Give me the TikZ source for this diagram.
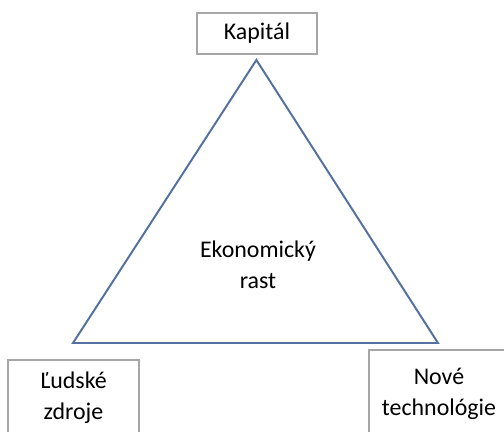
\documentclass[tikz,border=0pt]{standalone}
\usepackage{fontspec}
\setmainfont{Carlito}
\usepackage{tikz}
\usetikzlibrary{calc}
\definecolor{triblue}{HTML}{5470A0}
\definecolor{boxgray}{HTML}{A6A6A6}

\begin{document}
\begin{tikzpicture}[
		faktor/.style={draw=boxgray, line width=0.9pt, fill=white, align=center, inner sep=0pt, font=\fontsize{17}{22}\selectfont},
		hrana/.style={draw=triblue, line width=1.4pt, line join=miter}
	]
		%%%%% START %%%%%
		
		\useasboundingbox (0, 0) rectangle (12.6, 10.8);
		\clip (0, 0) rectangle (12.6, 10.8);
		
		\coordinate (vrch) at (6.41, 9.3);
		\coordinate (vlavo) at (1.825, 2.225);
		\coordinate (vpravo) at (10.95, 2.225);
		\draw[hrana] (vrch) -- (vlavo) -- (vpravo) -- cycle;
		
		\node[align=center, font=\fontsize{17}{22}\selectfont] (rast) at (6.45, 4.19) {Ekonomický\\rast};
		
		\node[faktor, minimum width=3.0cm, minimum height=1.025cm] (kapital) at (6.425, 9.96) {Kapitál};
		\node[faktor, minimum width=3.275cm, minimum height=1.9cm] (ludske) at (1.8375, 0.85) {Ľudské\\zdroje};
		\node[faktor, minimum width=3.5cm, minimum height=2.2cm] (nove) at (10.975, 0.95) {Nové\\technológie};
		
		%%%%% END %%%%%
	\end{tikzpicture}
\end{document}
